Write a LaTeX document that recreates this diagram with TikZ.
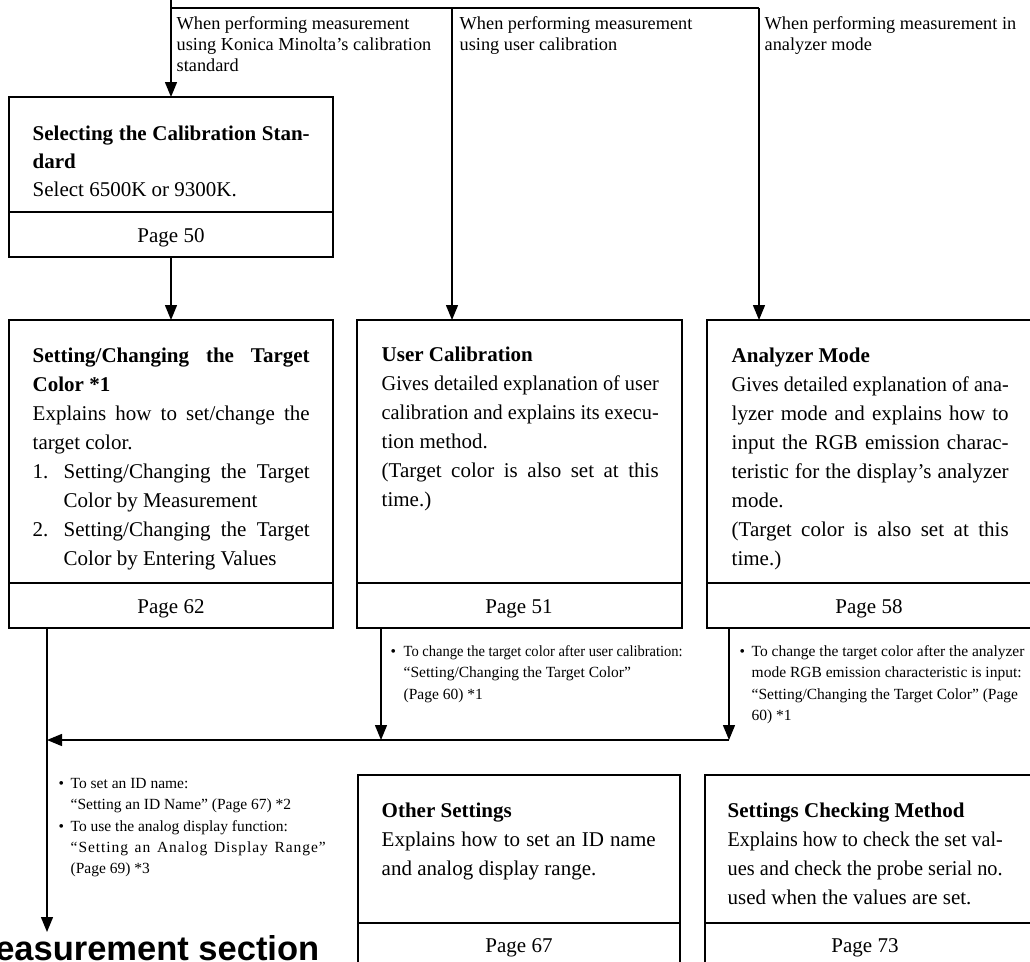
\documentclass[tikz,border=0pt]{standalone}
\usepackage{fontspec}
\usepackage{graphicx}
\setmainfont{Liberation Serif}
\newfontfamily\hvfont{Liberation Sans}
\usetikzlibrary{arrows.meta}
\newsavebox\jlbox
\newcommand\jl[2][277pt]{\sbox\jlbox{#2}\ifdim\wd\jlbox>#1\relax\resizebox{#1}{\height}{#2}\else\makebox[#1][s]{#2}\fi}
\begin{document}
\begin{tikzpicture}[x=1pt,y=-1pt,line width=1.4pt,
  box/.style={draw,line width=1.4pt,inner sep=0pt,outer sep=0pt,anchor=north west},
  arr/.style={-{Triangle[width=12pt,length=15pt]}},
  body/.style={font=\fontsize{21}{29}\selectfont,align=left,inner sep=0pt,anchor=north west},
  pagelab/.style={font=\fontsize{21}{29}\selectfont,inner sep=0pt,anchor=base},
  notetext/.style={font=\fontsize{15.5}{21.2}\selectfont,align=left,inner sep=0pt,anchor=north west},
  labtext/.style={font=\fontsize{18.3}{20.7}\selectfont,align=left,inner sep=0pt,anchor=north west}]
\useasboundingbox (0,0) rectangle (1030,961);
\fill[white] (0,0) rectangle (1030,961);
\clip (0,0) rectangle (1030,961);

% boxes
\node[box,minimum width=324pt,minimum height=160pt] (b1) at (9,97) {};
\node[box,minimum width=324pt,minimum height=308pt] (b2) at (9,320) {};
\node[box,minimum width=325pt,minimum height=308pt] (b3) at (357,320) {};
\node[box,minimum width=325pt,minimum height=308pt] (b4) at (707,320) {};
\node[box,minimum width=322pt,minimum height=193pt] (b5) at (358,775) {};
\node[box,minimum width=328pt,minimum height=193pt] (b6) at (705,775) {};
% dividers
\draw (9,212) -- (333,212);
\draw (9,583) -- (333,583);
\draw (357,583) -- (682,583);
\draw (707,583) -- (1032,583);
\draw (358,923) -- (680,923);
\draw (705,923) -- (1033,923);

% box texts
\node[body,font=\fontsize{21}{28}\selectfont] (t1) at (32,120.4)
 {\strut\jl{\bfseries Selecting the Calibration Stan-}\\\textbf{dard}\\Select 6500K or 9300K.};
\node[body] (t2) at (32,341.7)
 {\strut\jl{\bfseries Setting/Changing the Target}\\\textbf{Color *1}\\\jl{Explains how to set/change the}\\target color.\\\makebox[31pt][l]{1.}\jl[246pt]{Setting/Changing the Target}\\\hspace*{31pt}Color by Measurement\\\makebox[31pt][l]{2.}\jl[246pt]{Setting/Changing the Target}\\\hspace*{31pt}Color by Entering Values};
\node[body] (t3) at (381,340.7)
 {\strut\textbf{User Calibration}\\\jl{Gives detailed explanation of user}\\\jl{calibration and explains its execu-}\\tion method.\\\jl{(Target color is also set at this}\\time.)};
\node[body] (t4) at (731,341.7)
 {\strut\textbf{Analyzer Mode}\\\jl{Gives detailed explanation of ana-}\\\jl{lyzer mode and explains how to}\\\jl{input the RGB emission charac-}\\\jl{teristic for the display’s analyzer}\\mode.\\\jl{(Target color is also set at this}\\time.)};
\node[body] (t5) at (381,796.7)
 {\strut\textbf{Other Settings}\\\jl[274pt]{Explains how to set an ID name}\\and analog display range.};
\node[body] (t6) at (727,796.7)
 {\strut\textbf{Settings Checking Method}\\\jl[275pt]{Explains how to check the set val-}\\\jl[275pt]{ues and check the probe serial no.}\\used when the values are set.};

% page labels
\node[pagelab] (p1) at (171,242) {Page 50};
\node[pagelab] (p2) at (171,613) {Page 62};
\node[pagelab] (p3) at (519,613) {Page 51};
\node[pagelab] (p4) at (869,613) {Page 58};
\node[pagelab] (p5) at (519,952) {Page 67};
\node[pagelab] (p6) at (865,952) {Page 73};

% branch labels
\node[labtext] (l1) at (176,14.5) {\strut When performing measurement\\using Konica Minolta’s calibration\\standard};
\node[labtext] (l2) at (459,14.5) {\strut When performing measurement\\using user calibration};
\node[labtext] (l3) at (764,14.5) {\strut When performing measurement in\\analyzer mode};

% notes
\node[notetext] (n1) at (58,773.2)
 {\strut\makebox[12pt][l]{•}To set an ID name:\\\hspace*{12pt}“Setting an ID Name” (Page 67) *2\\\makebox[12pt][l]{•}To use the analog display function:\\\hspace*{12pt}\makebox[255pt][s]{\addfontfeature{LetterSpace=6}“Setting an Analog Display Range”}\\\hspace*{12pt}(Page 69) *3};
\node[notetext] (n2) at (390,641.2)
 {\strut\makebox[13pt][l]{•}\jl[279pt]{To change the target color after user calibration:}\\\hspace*{13pt}“Setting/Changing the Target Color”\\\hspace*{13pt}(Page 60) *1};
\node[notetext] (n3) at (739,641.2)
 {\strut\makebox[12pt][l]{•}To change the target color after the analyzer\\\hspace*{12pt}mode RGB emission characteristic is input:\\\hspace*{12pt}“Setting/Changing the Target Color” (Page\\\hspace*{12pt}60) *1};

% title
\node[font=\fontsize{34.5}{40}\selectfont\hvfont\bfseries,anchor=base east,inner sep=0pt] (title) at (320,960) {Measurement section};

% connectors
\coordinate (src) at (171,0);
\coordinate (ja) at (171,8);
\coordinate (jb) at (452,8);
\coordinate (jc) at (759,8);
\draw[arr] (src) -- (b1.north);
\draw (ja) -- (jc);
\draw[arr] (jb) -- (jb |- b3.north);
\draw[arr] (jc) -- (jc |- b4.north);
\draw[arr] (b1.south) -- (b2.north);
\coordinate (lend) at (47,932);
\draw[arr] (lend |- b2.south) -- (lend);
\coordinate (hu) at (381,740);
\coordinate (hr) at (729,740);
\coordinate (hl) at (47,740);
\draw[arr] (hu |- b3.south) -- (hu);
\draw[arr] (hr |- b4.south) -- (hr);
\draw[arr] (hr) -- (hl);
\end{tikzpicture}
\end{document}
